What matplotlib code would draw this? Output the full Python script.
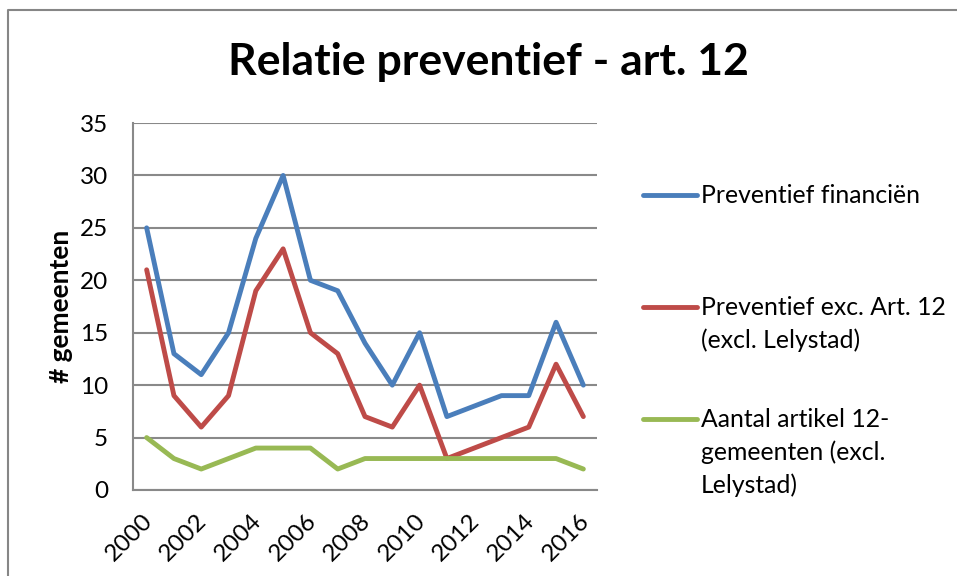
import matplotlib
matplotlib.use('Agg')
import matplotlib.pyplot as plt
import matplotlib.transforms as mtransforms
from matplotlib.lines import Line2D

plt.rcParams['font.family'] = ['Lato', 'DejaVu Sans']

years = list(range(2000, 2017))
preventief = [25, 13, 11, 15, 24, 30, 20, 19, 14, 10, 15, 7, 8, 9, 9, 16, 10]
preventief_excl = [21, 9, 6, 9, 19, 23, 15, 13, 7, 6, 10, 3, 4, 5, 6, 12, 7]
artikel12 = [5, 3, 2, 3, 4, 4, 4, 2, 3, 3, 3, 3, 3, 3, 3, 3, 2]

labels = ['Preventief financiën',
          'Preventief exc. Art. 12\n(excl. Lelystad)',
          'Aantal artikel 12-\ngemeenten (excl.\nLelystad)']
colors = ['#4A7EBB', '#BE4B48', '#98B954']
yticks = [0, 5, 10, 15, 20, 25, 30, 35]

W, H = 957, 576
fig = plt.figure(figsize=(W / 100, H / 100), dpi=100)
ax = fig.add_axes([133 / W, 1 - 490 / H, (597 - 133) / W, (490 - 123) / H])

x = list(range(len(years)))
for vals, c in zip([preventief, preventief_excl, artikel12], colors):
    ax.plot(x, vals, color=c, lw=3.5, solid_joinstyle='round', solid_capstyle='round', zorder=3)

ax.set_xlim(-0.5, len(years) - 0.5)
ax.set_ylim(0, 35)
ax.set_yticks(yticks)
ax.yaxis.grid(True, color='#898989', lw=1.5)
ax.set_axisbelow(True)
for s in ['top', 'right']:
    ax.spines[s].set_visible(False)
for s in ['left', 'bottom']:
    ax.spines[s].set_color('#898989')
    ax.spines[s].set_linewidth(1.5)

ax.set_xticks(x[::2])
ax.set_xticklabels([str(y) for y in years[::2]], rotation=45, ha='right',
                   rotation_mode='anchor', fontsize=17.5)
ax.tick_params(axis='x', length=0, pad=14)
shift = mtransforms.ScaledTranslation(-5 / 100, -1 / 100, fig.dpi_scale_trans)
for lbl in ax.get_xticklabels():
    lbl.set_transform(lbl.get_transform() + shift)
ax.tick_params(axis='y', length=0, labelsize=17.5, pad=18)
ax.set_ylabel('# gemeenten', fontsize=19, fontweight='bold')
ax.yaxis.set_label_coords((73 - 133) / 464, 0.5)

fig.text(488 / W, 1 - 75 / H, 'Relatie preventief - art. 12', ha='center', va='baseline',
         fontsize=32, fontweight='bold')

# legend drawn by hand so the handle sits on the first text line
legend_y = [195, 307, 419]
line_h = 33
for lab, c, ly in zip(labels, colors, legend_y):
    fig.add_artist(Line2D([643 / W, 697 / W], [1 - ly / H, 1 - ly / H], color=c, lw=3.5,
                          solid_capstyle='round', transform=fig.transFigure))
    for i, part in enumerate(lab.split('\n')):
        fig.text(701 / W, 1 - (ly + 8 + i * line_h) / H, part, ha='left', va='baseline',
                 fontsize=17.8)

# chart area border
fig.add_artist(Line2D([8 / W, 8 / W, 1], [0, 1 - 10 / H, 1 - 10 / H], color='#868686', lw=1.5,
                      transform=fig.transFigure))

fig.savefig('out.png', dpi=100)
